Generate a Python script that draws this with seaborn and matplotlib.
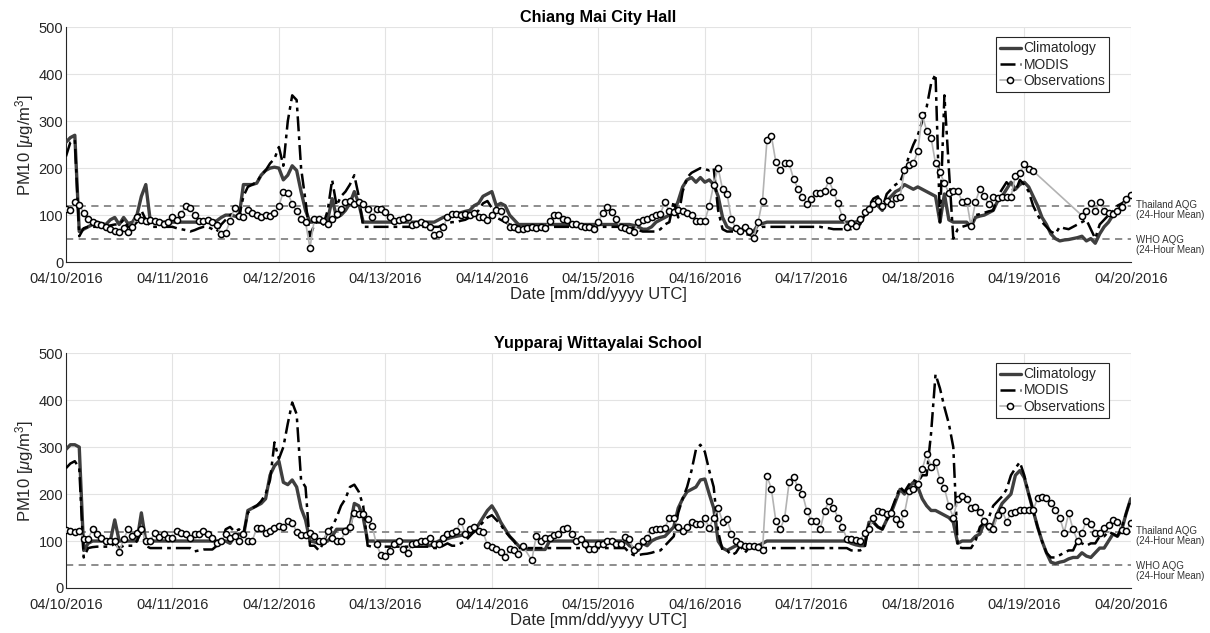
import matplotlib
matplotlib.use("Agg")
import matplotlib.pyplot as plt
import matplotlib.dates as mdates
import numpy as np
import pandas as pd
import seaborn as sns

sns.set_theme(style="white")
plt.rcParams['font.family'] = ['Liberation Sans', 'DejaVu Sans']
plt.rcParams['mathtext.fontset'] = 'custom'
plt.rcParams['mathtext.rm'] = 'Liberation Sans'
plt.rcParams['mathtext.it'] = 'Liberation Sans:italic'

# hourly values, 04/10/2016 00 UTC .. 04/20/2016 00 UTC (241 values)
times = pd.date_range('2016-04-10', periods=241, freq='h')
day_ticks = pd.date_range('2016-04-10', '2016-04-20', freq='D')
titles = ['Chiang Mai City Hall', 'Yupparaj Wittayalai School']
thai_aqg = 120
who_aqg = 50

top_clim = [
    255, 265, 270, 65, 70, 75, 80, 85, 82, 80, 90, 95, 80, 95, 82, 85, 100, 140, 165, 88, 85, 85, 85, 85,
    85, 85, 85, 85, 85, 85, 85, 85, 85, 85, 88, 95, 100, 100, 98, 95, 165, 165, 165, 168, 185, 195, 200, 202,
    200, 175, 185, 205, 195, 150, 110, 85, 85, 85, 85, 90, 135, 95, 100, 110, 125, 150, 125, 85, 85, 85, 85, 85,
    85, 85, 85, 85, 85, 85, 85, 85, 85, 85, 85, 85, 90, 95, 98, 100, 103, 105, 108, 110, 120, 125, 140, 145,
    150, 120, 125, 120, 100, 90, 80, 80, 80, 80, 80, 80, 80, 80, 80, 80, 80, 80, 80, 80, 80, 80, 80, 80,
    80, 80, 80, 80, 80, 80, 80, 80, 78, 75, 70, 70, 75, 85, 90, 95, 100, 105, 130, 160, 175, 180, 170, 180,
    170, 175, 165, 140, 95, 75, 70, 70, 70, 68, 65, 65, 80, 82, 85, 85, 85, 85, 85, 85, 85, 85, 85, 85,
    85, 85, 85, 85, 85, 85, 85, 85, 85, 85, 85, 90, 100, 115, 125, 120, 110, 130, 140, 150, 155, 165, 160, 155,
    160, 155, 150, 145, 140, 85, 145, 90, 85, 85, 85, 85, 75, 95, 98, 100, 105, 110, 130, 140, 155, 170, 155, 165,
    170, 160, 140, 120, 95, 80, 60, 50, 45, 47, 48, 50, 52, 55, 45, 50, 40, 60, 75, 85, 100, 110, 120, 130,
    140]

top_modis = [
    225, 255, 260, 55, 72, 75, 75, 75, 75, 75, 78, 80, 80, 90, 75, 75, 85, 110, 90, 75, 75, 75, 75, 75,
    75, 72, 70, 68, 65, 68, 72, 75, 75, 70, 65, 80, 90, 100, 105, 95, 140, 160, 165, 170, 185, 195, 210, 220,
    245, 205, 300, 355, 345, 200, 130, 55, 80, 90, 80, 110, 175, 120, 140, 150, 165, 185, 140, 75, 75, 75, 75, 75,
    75, 75, 75, 75, 75, 75, 75, 75, 75, 75, 75, 75, 75, 80, 82, 85, 85, 88, 90, 95, 100, 110, 125, 130,
    115, 95, 90, 85, 80, 78, 75, 75, 75, 75, 75, 75, 75, 75, 75, 75, 75, 75, 75, 75, 75, 75, 75, 75,
    75, 75, 75, 75, 75, 75, 75, 75, 72, 68, 65, 65, 65, 65, 70, 80, 85, 130, 95, 150, 180, 190, 195, 200,
    198, 195, 200, 110, 70, 65, 65, 65, 63, 60, 58, 55, 70, 75, 75, 75, 75, 75, 75, 75, 75, 75, 75, 75,
    75, 75, 75, 73, 72, 70, 70, 70, 70, 70, 75, 80, 100, 120, 135, 140, 115, 145, 155, 165, 170, 195, 225, 250,
    270, 300, 330, 380, 400, 85, 355, 200, 50, 70, 75, 78, 80, 100, 102, 105, 108, 110, 140, 155, 170, 160, 150, 175,
    165, 150, 120, 100, 85, 75, 65, 60, 75, 72, 70, 75, 80, 85, 90, 70, 50, 80, 90, 100, 108, 120, 125, 132,
    140]

top_obs = [
    112, 110, 127, 122, 105, 92, 85, 80, 78, 75, 70, 67, 65, 72, 65, 75, 97, 90, 88, 90, 88, 85, 80, 85,
    95, 90, 103, 120, 115, 100, 88, 87, 90, 85, 78, 60, 62, 88, 115, 98, 97, 110, 105, 100, 97, 100, 98, 105,
    120, 149, 147, 124, 108, 92, 85, 30, 92, 92, 88, 82, 92, 103, 113, 128, 131, 124, 128, 124, 113, 96, 113, 113,
    106, 95, 88, 90, 92, 95, 78, 80, 85, 80, 75, 58, 60, 75, 95, 102, 103, 100, 102, 100, 105, 95, 95, 90,
    100, 110, 108, 92, 75, 75, 70, 70, 72, 75, 72, 75, 72, 88, 100, 100, 92, 90, 82, 80, 76, 75, 75, 70,
    85, 105, 117, 106, 92, 74, 73, 69, 64, 85, 90, 92, 95, 100, 103, 128, 108, 106, 110, 108, 104, 100, 88, 88,
    88, 120, 165, 200, 155, 145, 91, 72, 67, 74, 67, 52, 85, 131, 259, 269, 213, 195, 210, 210, 177, 156, 138, 124,
    135, 147, 147, 152, 174, 149, 125, 96, 74, 83, 76, 92, 106, 113, 124, 131, 120, 131, 123, 137, 138, 195, 206, 210,
    236, 313, 280, 264, 210, 191, 168, 147, 152, 152, 128, 131, 76, 128, 156, 140, 123, 138, 136, 138, 138, 138, 184, 189,
    208, 199, 194, None, None, None, None, None, None, None, None, None, None, 99, 108, 125, 108, 128, 108, 105, 103, 108, 117, 135,
    143]

bot_clim = [
    295, 305, 305, 300, 80, 95, 100, 100, 100, 100, 100, 145, 100, 100, 100, 100, 100, 160, 100, 100, 100, 100, 100, 100,
    100, 100, 100, 100, 100, 100, 100, 100, 100, 100, 100, 100, 100, 95, 110, 115, 110, 165, 170, 175, 180, 190, 240, 260,
    270, 225, 220, 230, 215, 170, 145, 100, 98, 95, 98, 100, 110, 125, 125, 125, 130, 180, 175, 150, 100, 100, 100, 100,
    100, 100, 100, 100, 100, 100, 100, 100, 100, 95, 90, 95, 100, 103, 105, 108, 110, 112, 115, 118, 120, 135, 150, 165,
    175, 160, 140, 125, 110, 100, 90, 82, 82, 82, 82, 82, 82, 100, 100, 100, 100, 100, 100, 100, 100, 100, 100, 100,
    100, 100, 100, 100, 100, 100, 100, 90, 85, 80, 95, 90, 100, 105, 108, 110, 120, 130, 170, 190, 205, 210, 215, 230,
    232, 200, 170, 100, 85, 80, 85, 90, 90, 90, 90, 90, 90, 95, 100, 100, 100, 100, 100, 100, 100, 100, 100, 100,
    100, 100, 100, 100, 100, 100, 100, 100, 100, 95, 92, 90, 90, 140, 140, 130, 125, 145, 160, 185, 210, 200, 215, 225,
    215, 190, 175, 165, 165, 160, 155, 150, 140, 95, 100, 100, 100, 110, 115, 140, 125, 135, 160, 180, 190, 200, 240, 250,
    235, 200, 165, 130, 100, 75, 55, 52, 55, 57, 62, 65, 65, 75, 68, 65, 75, 85, 85, 100, 115, 110, 125, 160,
    190]

bot_modis = [
    255, 265, 270, 255, 65, 85, 87, 88, 88, 88, 88, 95, 85, 90, 90, 90, 100, 120, 90, 85, 85, 85, 85, 85,
    85, 85, 85, 85, 85, 78, 80, 82, 82, 82, 90, 95, 125, 130, 120, 125, 115, 160, 170, 175, 185, 200, 230, 310,
    275, 300, 350, 395, 370, 230, 215, 90, 90, 80, 95, 120, 130, 150, 175, 190, 215, 220, 205, 175, 90, 88, 88, 88,
    88, 88, 88, 88, 88, 88, 88, 88, 88, 88, 88, 85, 85, 90, 95, 90, 90, 95, 100, 110, 120, 130, 140, 150,
    155, 145, 135, 120, 110, 100, 85, 85, 85, 85, 85, 85, 85, 85, 85, 85, 85, 85, 85, 85, 85, 85, 85, 85,
    85, 85, 85, 85, 85, 85, 85, 75, 70, 70, 72, 73, 75, 78, 80, 90, 100, 110, 160, 190, 215, 250, 295, 305,
    290, 250, 215, 120, 80, 80, 70, 75, 90, 75, 85, 85, 85, 85, 85, 85, 85, 85, 85, 85, 85, 85, 85, 85,
    85, 85, 85, 85, 85, 85, 85, 85, 85, 80, 80, 80, 85, 135, 140, 130, 125, 145, 165, 190, 215, 205, 220, 230,
    225, 240, 240, 330, 455, 425, 385, 350, 300, 88, 85, 85, 85, 100, 130, 140, 150, 175, 185, 195, 210, 240, 255, 268,
    240, 200, 165, 130, 100, 75, 65, 65, 70, 75, 80, 80, 100, 95, 90, 95, 95, 110, 110, 120, 115, 110, 130, 160,
    190]

bot_obs = [
    123, 121, 120, 121, 105, 105, 125, 116, 107, 100, 100, 101, 77, 104, 125, 111, 118, 125, 100, 100, 118, 108, 116, 107,
    107, 121, 118, 116, 107, 116, 116, 121, 116, 107, 96, 100, 114, 107, 111, 101, 114, 100, 101, 127, 128, 118, 121, 128,
    132, 130, 143, 139, 120, 113, 113, 118, 111, 100, 100, 121, 107, 101, 101, 121, 130, 159, 157, 157, 146, 132, 93, 70,
    68, 79, 93, 100, 82, 75, 93, 96, 100, 101, 107, 93, 93, 107, 116, 118, 121, 143, 116, 125, 130, 121, 120, 91,
    87, 82, 77, 66, 82, 80, 73, 89, None, 59, 111, 100, 107, 107, 113, 116, 125, 128, 116, 100, 104, 93, 82, 82,
    93, 93, 101, 101, 93, 93, 108, 104, 80, 89, 100, 106, 123, 125, 125, 128, 150, 150, 130, 121, 130, 141, 136, 136,
    148, 128, 150, 171, 141, 146, 116, 100, 93, 89, 89, 89, 87, 80, 239, 211, 143, 125, 150, 225, 237, 214, 201, 164,
    143, 143, 125, 164, 186, 171, 150, 130, 105, 105, 103, 100, 118, 125, 150, 164, 161, 157, 159, 146, 136, 159, 207, 211,
    221, 253, 286, 258, 268, 230, 213, 175, 150, 189, 196, 189, 171, 173, 161, 143, 132, 125, 156, 166, 141, 159, 161, 166,
    166, 166, 166, 191, 194, 191, 180, 166, 150, 118, 159, 125, 100, 118, 143, 136, 118, 118, 127, 134, 144, 141, 123, 121,
    139]

panels = [(titles[0], top_clim, top_modis, top_obs),
          (titles[1], bot_clim, bot_modis, bot_obs)]

fig = plt.figure(figsize=(12.1, 6.33), dpi=100)
ax_top = fig.add_axes([0.0545, 0.586, 0.880, 0.371])
ax_bot = fig.add_axes([0.0545, 0.0711, 0.880, 0.371])

axis_col = '#262626'

for ax, (title, clim, modis, obs) in zip([ax_top, ax_bot], panels):
    df = pd.DataFrame({'time': times, 'clim': clim, 'modis': modis,
                       'obs': pd.to_numeric(pd.Series(obs), errors='coerce')})

    ax.axhline(thai_aqg, color='#858585', linestyle=(0, (4, 3)), linewidth=1.3, zorder=1)
    ax.axhline(who_aqg, color='#858585', linestyle=(0, (4, 3)), linewidth=1.3, zorder=1)

    sns.lineplot(data=df, x='time', y='clim', ax=ax, color='#3f3f3f',
                 linewidth=2.4, label='Climatology', errorbar=None, zorder=3)
    sns.lineplot(data=df, x='time', y='modis', ax=ax, color='black',
                 linewidth=1.8, linestyle=(0, (6, 2, 1.5, 2)), label='MODIS',
                 errorbar=None, zorder=4)
    sns.lineplot(data=df.dropna(subset=['obs']), x='time', y='obs', ax=ax,
                 color='#b3b3b3', linewidth=1.2, marker='o', markersize=4.4,
                 markerfacecolor='white', markeredgecolor='black',
                 markeredgewidth=1.1, label='Observations', errorbar=None, zorder=5)

    ax.set_xlim(day_ticks[0], day_ticks[-1])
    ax.set_ylim(0, 500)
    ax.set_xticks(day_ticks)
    ax.xaxis.set_major_formatter(mdates.DateFormatter('%m/%d/%Y'))
    ax.set_yticks(np.arange(0, 501, 100))
    ax.grid(True, color='#e3e3e3', linewidth=0.8, zorder=0)
    ax.set_axisbelow(True)
    for side in ['top', 'right']:
        ax.spines[side].set_visible(False)
    for side in ['left', 'bottom']:
        ax.spines[side].set_color(axis_col)
        ax.spines[side].set_linewidth(0.8)
    ax.tick_params(direction='in', length=4, width=0.8, colors=axis_col,
                   labelsize=10.5)
    ax.tick_params(axis='x', pad=7)
    ax.tick_params(axis='y', pad=2)

    ax.set_title(title, fontsize=11.7, fontweight='bold', color='black', pad=4)
    ax.set_xlabel('Date [mm/dd/yyyy UTC]', fontsize=12, color=axis_col, labelpad=1)
    ax.set_ylabel('PM10 [$\\mu$g/m$^3$]', fontsize=12, color=axis_col, labelpad=2)

    leg = ax.legend(loc='upper right', bbox_to_anchor=(0.980, 0.957), fontsize=10,
                    frameon=True, fancybox=False, framealpha=1, edgecolor='#262626',
                    handlelength=1.5, handletextpad=0.2, borderpad=0.3,
                    labelspacing=0.15, borderaxespad=0)
    leg.get_frame().set_linewidth(0.8)

    ax.annotate('Thailand AQG\n(24-Hour Mean)', xy=(1.005, thai_aqg),
                xycoords=('axes fraction', 'data'), xytext=(0, 4),
                textcoords='offset points', ha='left', va='top',
                fontsize=7, color='#333333', linespacing=1.0)
    ax.annotate('WHO AQG\n(24-Hour Mean)', xy=(1.005, who_aqg),
                xycoords=('axes fraction', 'data'), xytext=(0, 2.5),
                textcoords='offset points', ha='left', va='top',
                fontsize=7, color='#333333', linespacing=1.0)

fig.savefig('out.png', dpi=100)
